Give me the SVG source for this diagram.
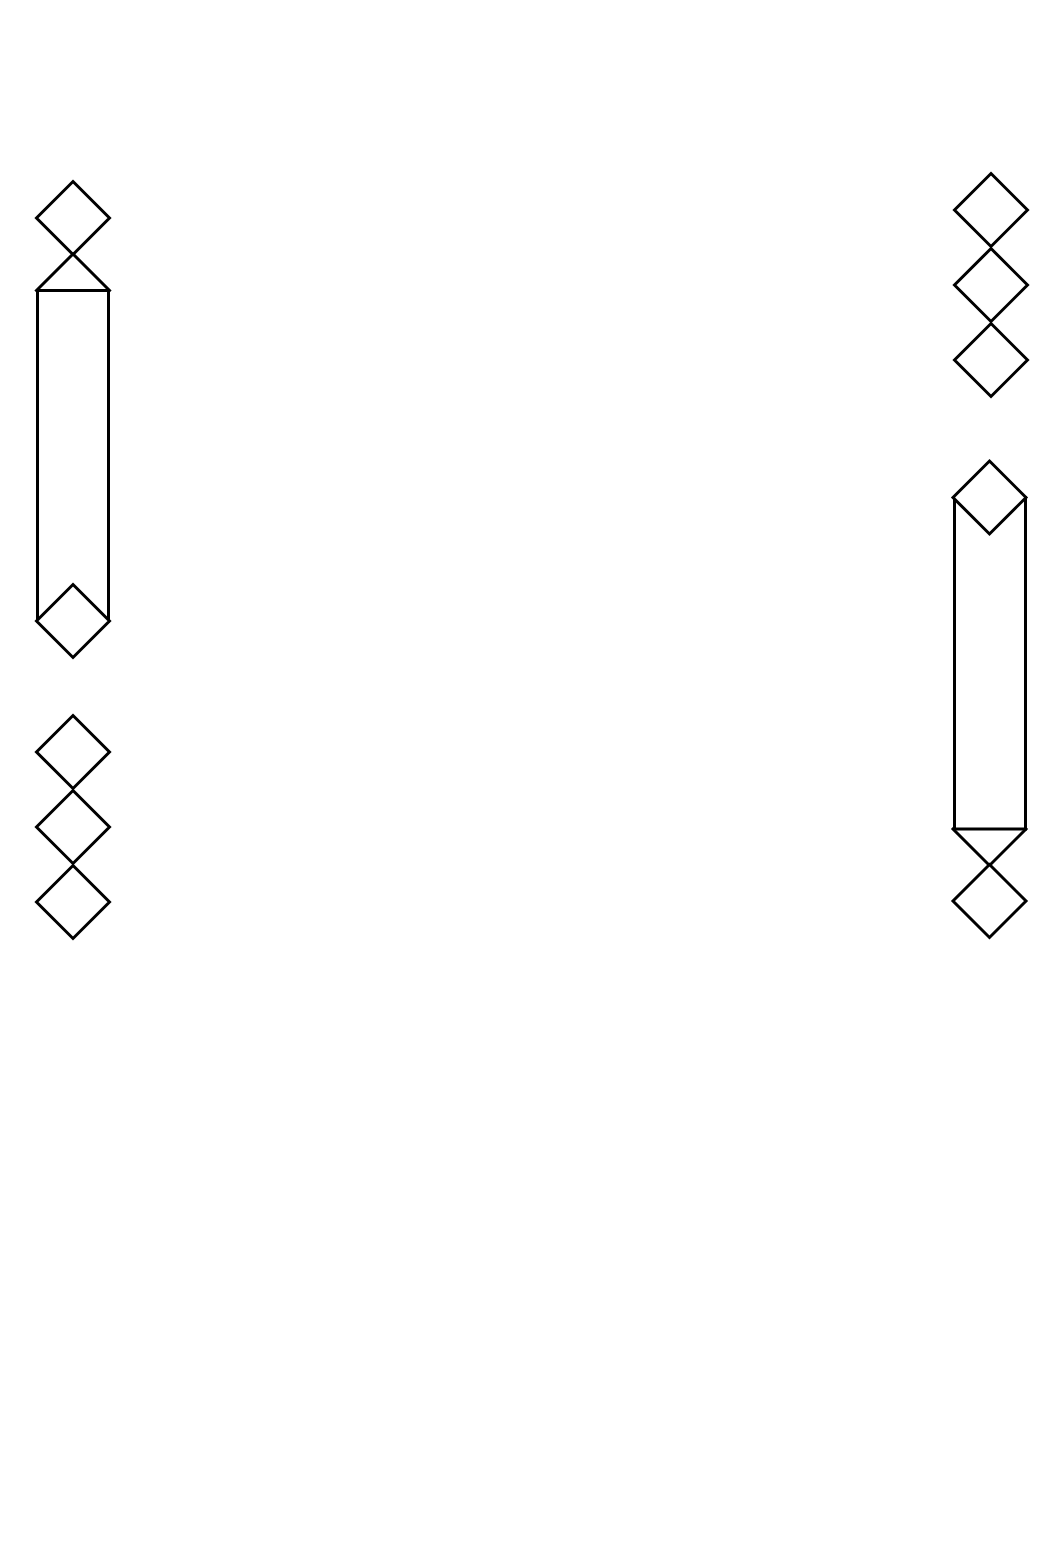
<svg xmlns="http://www.w3.org/2000/svg" width="1058" height="1553" viewBox="0 0 1058 1553">
<defs>
<style>
.s{fill:#fff;stroke:#000;stroke-width:3;stroke-linejoin:miter}
</style>
<polygon id="dia" points="0,-36.5 36.5,0 0,36.5 -36.5,0"/>
</defs>
<rect width="1058" height="1553" fill="#fff"/>
<g id="connectors"/>
<g id="left-top">
<use href="#dia" class="s" x="73" y="218"/>
<use href="#dia" class="s" x="73" y="290.5"/>
<rect class="s" x="37.5" y="290.5" width="71" height="330.5"/>
<use href="#dia" class="s" x="73" y="621"/>
</g>
<g id="left-bottom">
<use href="#dia" class="s" x="73" y="752"/>
<use href="#dia" class="s" x="73" y="827"/>
<use href="#dia" class="s" x="73" y="902"/>
</g>
<g id="right-top">
<use href="#dia" class="s" x="991" y="210"/>
<use href="#dia" class="s" x="991" y="285"/>
<use href="#dia" class="s" x="991" y="360"/>
</g>
<g id="right-bottom">
<use href="#dia" class="s" x="989.5" y="829"/>
<rect class="s" x="954.5" y="497.5" width="71" height="331.5"/>
<use href="#dia" class="s" x="989.5" y="497.5"/>
<use href="#dia" class="s" x="989.5" y="901"/>
</g>
</svg>
